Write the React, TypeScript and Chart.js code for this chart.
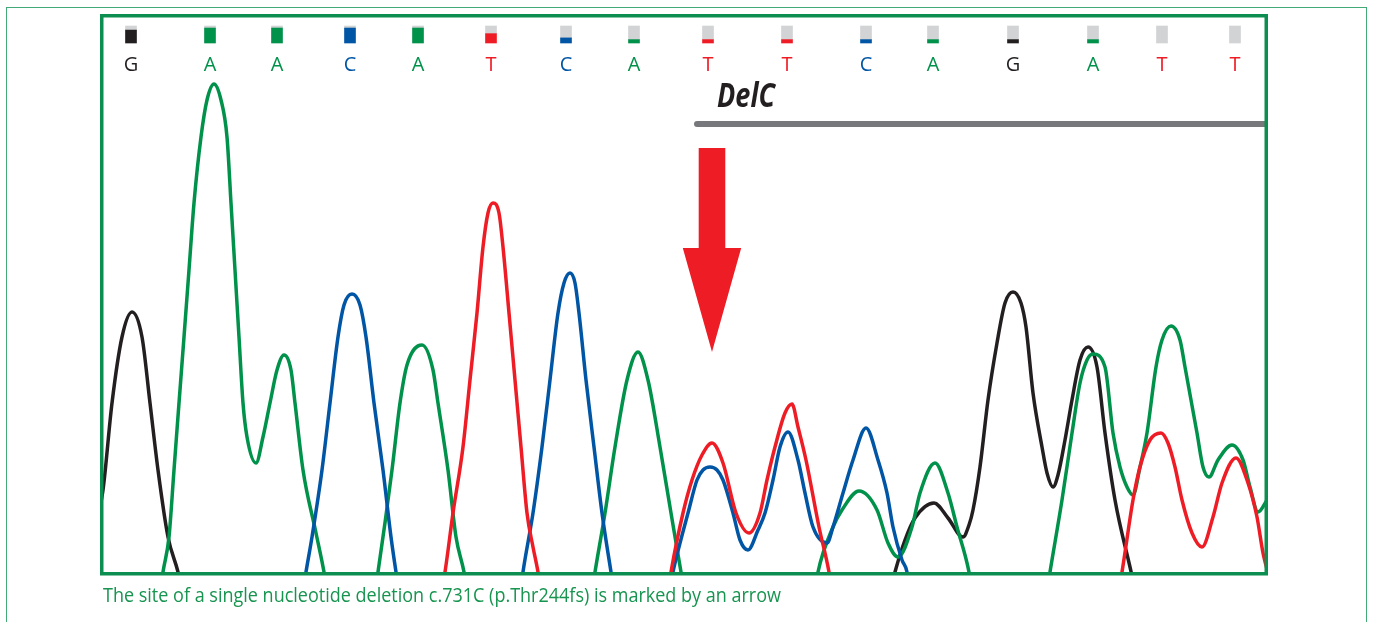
import React, { useEffect, useLayoutEffect, useRef } from 'react';
import { Chart, registerables } from 'chart.js';

Chart.register(...registerables);

// ---- Data (scan position, signal intensity) ----
const BASES = ['G', 'A', 'A', 'C', 'A', 'T', 'C', 'A', 'T', 'T', 'C', 'A', 'G', 'A', 'T', 'T'];
const BASE_POS = [29, 108, 175, 248, 316, 389, 464, 532, 606, 685, 764, 831, 911, 991, 1060, 1133];
const QUALITY = [0.76, 0.88, 0.88, 0.88, 0.88, 0.55, 0.3, 0.2, 0.2, 0.2, 0.2, 0.2, 0.2, 0.2, 0, 0];

const TRACE_G: [number, number][] = [
  [-7, 42], [1, 82], [10, 169], [20, 235], [30, 260], [40, 235], [48, 169], [56, 102], [66, 35], [76, 0],
  [84, -38], [98, -68], [778, -68], [786, -28], [793, 0], [803, 32], [813, 54], [832, 69], [846, 54], [861, 35],
  [867, 47], [871, 62], [878, 105], [886, 172], [895, 229], [903, 269], [911, 280], [919, 269], [924, 245],
  [931, 179], [940, 125], [945, 99], [951, 85], [956, 97], [963, 132], [970, 172], [978, 212], [986, 225],
  [995, 205], [1003, 139], [1013, 72], [1028, 5], [1038, -38], [1048, -68], [1188, -68],
];

const TRACE_A: [number, number][] = [
  [-7, -68], [48, -68], [56, -38], [61, 0], [67, 35], [72, 102], [77, 169], [82, 235], [87, 302], [92, 369],
  [99, 435], [105, 472], [112, 488], [119, 472], [125, 435], [129, 369], [133, 302], [137, 235], [141, 169],
  [145, 135], [154, 109], [161, 135], [168, 169], [175, 202], [182, 217], [189, 202], [193, 169], [201, 102],
  [214, 39], [222, 0], [228, -38], [238, -68], [258, -68], [270, -38], [276, 0], [290, 102], [298, 169],
  [305, 207], [320, 227], [331, 202], [336, 169], [346, 102], [354, 35], [362, 0], [368, -38], [378, -68],
  [478, -68], [487, -38], [493, 0], [503, 59], [513, 125], [525, 192], [536, 220], [546, 192], [558, 125],
  [569, 59], [579, 0], [586, -38], [598, -68], [698, -68], [710, -38], [716, 0], [731, 45], [740, 62],
  [757, 81], [775, 62], [786, 29], [796, 15], [810, 45], [818, 79], [833, 109], [846, 79], [855, 45],
  [867, 0], [873, -38], [883, -68], [933, -68], [942, -38], [948, 0], [960, 72], [970, 139], [978, 189],
  [985, 212], [991, 218], [1003, 205], [1011, 139], [1018, 105], [1025, 85], [1031, 77], [1038, 105],
  [1045, 139], [1054, 205], [1060, 232], [1069, 246], [1078, 232], [1083, 205], [1095, 139], [1101, 105],
  [1107, 95], [1116, 112], [1130, 127], [1141, 112], [1148, 85], [1156, 60], [1165, 72], [1178, 92],
];

const TRACE_C: [number, number][] = [
  [188, -68], [198, -38], [204, 0], [210, 35], [220, 102], [228, 169], [236, 235], [242, 267], [250, 278],
  [258, 267], [264, 235], [272, 169], [281, 102], [289, 35], [294, 0], [300, -38], [308, -68], [408, -68],
  [416, -38], [421, 0], [431, 59], [440, 125], [448, 192], [456, 259], [462, 289], [468, 299], [473, 289],
  [477, 259], [484, 192], [492, 125], [500, 59], [509, 0], [515, -38], [523, -68], [553, -68], [564, -38],
  [571, 0], [577, 25], [586, 59], [595, 92], [601, 102], [608, 105], [615, 102], [621, 92], [631, 59],
  [638, 32], [646, 22], [656, 42], [663, 59], [671, 92], [678, 125], [686, 140], [696, 112], [703, 79],
  [711, 45], [725, 29], [731, 45], [741, 79], [751, 112], [764, 144], [776, 112], [785, 79], [791, 45],
  [800, 12], [805, 0], [810, -38], [818, -68], [1188, -68],
];

const TRACE_T: [number, number][] = [
  [318, -68], [336, -38], [343, 0], [351, 59], [361, 125], [368, 192], [375, 259], [381, 325], [386, 359],
  [391, 369], [397, 359], [401, 325], [407, 259], [413, 192], [419, 125], [425, 59], [431, 25], [436, 0],
  [442, -38], [450, -68], [553, -68], [563, -38], [569, 0], [581, 59], [590, 92], [600, 117], [610, 129],
  [621, 109], [634, 59], [647, 39], [658, 59], [665, 92], [673, 125], [683, 159], [690, 168], [696, 145],
  [704, 112], [717, 45], [727, 0], [733, -38], [743, -68], [998, -68], [1013, -38], [1020, 0], [1031, 72],
  [1038, 105], [1048, 132], [1059, 139], [1066, 129], [1073, 105], [1080, 72], [1090, 39], [1100, 25],
  [1111, 55], [1120, 89], [1134, 114], [1146, 89], [1155, 55], [1161, 19], [1168, -8], [1178, -48],
];

// Deletion annotation (scan positions / intensity levels)
const DELETION_LABEL = 'DelC';
const DELETION_LABEL_AT = [644, 465];
const DELETION_SPAN = [595, 1200];
const DELETION_LEVEL = 448;
const ARROW_AT = 610;
const ARROW_LEVELS = [424, 324, 220]; // shaft top, head base, tip

const CAPTION = 'The site of a single nucleotide deletion c.731C (p.Thr244fs) is marked by an arrow';

const COLORS: Record<string, string> = { G: '#231f20', A: '#00914a', C: '#0055a5', T: '#ee1c25' };
const BOX_GREEN = '#0b8e4f';

const overlay = {
  id: 'overlay',
  afterDatasetsDraw(chart: any) {
    const { ctx, scales } = chart;
    const xs = scales.x;
    const ys = scales.y;
    const yq = scales.yq;
    ctx.save();
    // base letters
    ctx.font = '20px "Open Sans", sans-serif';
    ctx.textAlign = 'center';
    ctx.textBaseline = 'alphabetic';
    const letterY = yq.getPixelForValue(0) + 28;
    BASES.forEach((b, i) => {
      ctx.fillStyle = COLORS[b];
      ctx.fillText(b, xs.getPixelForValue(BASE_POS[i]), letterY);
    });
    // arrow
    const ax = xs.getPixelForValue(ARROW_AT);
    const yTop = ys.getPixelForValue(ARROW_LEVELS[0]);
    const yHead = ys.getPixelForValue(ARROW_LEVELS[1]);
    const yTip = ys.getPixelForValue(ARROW_LEVELS[2]);
    ctx.fillStyle = '#ee1c25';
    ctx.beginPath();
    ctx.moveTo(ax - 13.3, yTop);
    ctx.lineTo(ax + 13.3, yTop);
    ctx.lineTo(ax + 13.3, yHead);
    ctx.lineTo(ax + 29.2, yHead);
    ctx.lineTo(ax, yTip);
    ctx.lineTo(ax - 29.2, yHead);
    ctx.lineTo(ax - 13.3, yHead);
    ctx.closePath();
    ctx.fill();
    // DelC label
    ctx.font = 'italic 700 34px "Open Sans", sans-serif';
    const w = ctx.measureText(DELETION_LABEL).width;
    ctx.translate(xs.getPixelForValue(DELETION_LABEL_AT[0]), ys.getPixelForValue(DELETION_LABEL_AT[1]));
    ctx.scale(58 / w, 1);
    ctx.fillStyle = '#231f20';
    ctx.fillText(DELETION_LABEL, 0, 0);
    ctx.restore();
  },
  afterDraw(chart: any) {
    const { ctx, chartArea } = chart;
    ctx.save();
    ctx.strokeStyle = BOX_GREEN;
    ctx.lineWidth = 3.5;
    ctx.strokeRect(chartArea.left - 0.25, chartArea.top - 0.25, chartArea.right - chartArea.left + 0.5, chartArea.bottom - chartArea.top + 2);
    ctx.restore();
  },
};

const trace = (data: [number, number][], color: string, order: number) => ({
  type: 'line' as const,
  data: data.map(([x, y]) => ({ x, y })),
  borderColor: color,
  borderWidth: 3.5,
  pointRadius: 0,
  fill: false,
  cubicInterpolationMode: 'monotone' as const,
  order,
  xAxisID: 'x',
  yAxisID: 'y',
});

export default function App() {
  const canvasRef = useRef<HTMLCanvasElement>(null);
  const capRef = useRef<HTMLSpanElement>(null);

  useEffect(() => {
    const chart = new Chart(canvasRef.current as HTMLCanvasElement, {
      type: 'line',
      data: {
        datasets: [
          trace(TRACE_T, COLORS.T, 1),
          trace(TRACE_C, COLORS.C, 2),
          trace(TRACE_A, COLORS.A, 3),
          trace(TRACE_G, COLORS.G, 4),
          {
            type: 'line',
            data: DELETION_SPAN.map((x) => ({ x, y: DELETION_LEVEL })),
            borderColor: '#77787b',
            borderWidth: 6,
            borderCapStyle: 'round',
            pointRadius: 0,
            order: 0,
            xAxisID: 'x',
            yAxisID: 'y',
          } as any,
          {
            type: 'bar',
            data: BASE_POS.map((x, i) => ({ x, y: QUALITY[i] > 0 ? QUALITY[i] : null })),
            backgroundColor: BASES.map((b) => COLORS[b]),
            barThickness: 11,
            borderWidth: 0,
            stack: 'q',
            order: 20,
            xAxisID: 'x',
            yAxisID: 'yq',
          } as any,
          {
            type: 'bar',
            data: BASE_POS.map((x, i) => ({ x, y: 1 - QUALITY[i] })),
            backgroundColor: '#d1d3d4',
            barThickness: 11,
            borderWidth: 0,
            stack: 'q',
            order: 21,
            xAxisID: 'x',
            yAxisID: 'yq',
          } as any,
        ],
      },
      options: {
        responsive: false,
        animation: false,
        events: [],
        layout: { padding: { left: 102, top: 16, right: 107, bottom: 50 } },
        plugins: { legend: { display: false }, tooltip: { enabled: false } },
        scales: {
          x: { type: 'linear', min: 0, max: 1164, display: false, offset: false },
          y: { type: 'linear', min: 0, max: 556, display: false },
          yq: { type: 'linear', min: -31.1176, max: 1.5882, display: false },
        },
      },
      plugins: [overlay],
    } as any);
    return () => chart.destroy();
  }, []);

  useLayoutEffect(() => {
    const el = capRef.current;
    if (!el) return;
    el.style.transform = 'none';
    const w = el.getBoundingClientRect().width;
    if (w > 0) el.style.transform = `scaleX(${678 / w})`;
  }, []);

  return (
    <div style={{ position: 'fixed', left: 0, top: 0, width: 1373, height: 622, background: '#fff', overflow: 'hidden' }}>
      <div style={{ position: 'absolute', left: 6, top: 7, width: 1361, height: 700, border: '1.5px solid #43a976', boxSizing: 'border-box' }} />
      <canvas ref={canvasRef} width={1373} height={622} style={{ position: 'absolute', left: 0, top: 0, width: 1373, height: 622 }} />
      <span
        ref={capRef}
        style={{
          position: 'absolute', left: 103, top: 585, font: '20px "Open Sans", sans-serif', lineHeight: '20px',
          whiteSpace: 'nowrap', color: '#17944f', transformOrigin: '0 0', display: 'inline-block',
        }}
      >
        {CAPTION}
      </span>
    </div>
  );
}
